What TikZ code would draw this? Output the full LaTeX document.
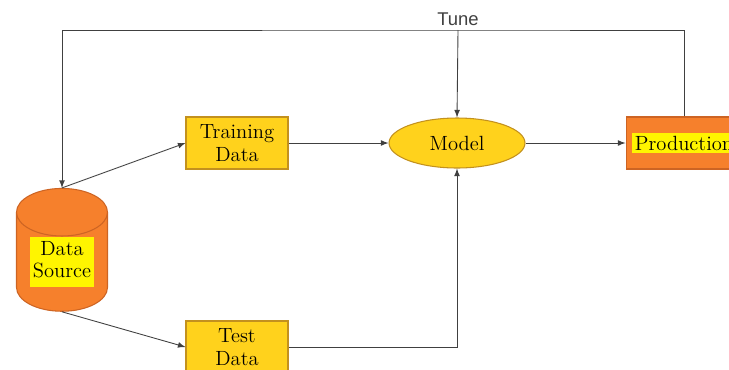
\documentclass[tikz,border=0pt]{standalone}
\usepackage{fontspec}
\newfontfamily\tunefont{Liberation Sans}
\usepackage{xcolor}
\usetikzlibrary{shapes.geometric, arrows, positioning, calc}

\definecolor{srcorange}{RGB}{246,128,44}
\definecolor{srcedge}{RGB}{205,100,35}
\definecolor{boxgold}{RGB}{255,210,28}
\definecolor{boxedge}{RGB}{195,145,30}
\definecolor{hiyellow}{RGB}{255,245,0}

\newcommand{\hilite}[1]{{\setlength{\fboxsep}{1.5pt}\colorbox{hiyellow}{#1}}}

\begin{document}
\begin{tikzpicture}[
    x=0.02cm, y=-0.02cm,
    font=\fontsize{11.7}{13.5}\selectfont,
    node distance=2cm,
    box/.style={rectangle, draw=boxedge, fill=boxgold, line width=0.6pt, minimum width=2.04cm, minimum height=1.04cm, align=center, inner sep=1pt},
    store/.style={cylinder, shape border rotate=90, aspect=0.75, draw=srcedge, fill=srcorange, line width=0.6pt, minimum width=1.82cm, minimum height=2.26cm, inner sep=0pt, align=center},
    blob/.style={ellipse, draw=boxedge, fill=boxgold, line width=0.6pt, minimum width=2.72cm, minimum height=1.0cm, inner sep=0pt},
    deploy/.style={rectangle, draw=srcedge, fill=srcorange, line width=0.6pt, minimum width=2.32cm, minimum height=1.04cm, inner sep=0pt},
    arrow/.style={black!75, line width=0.5pt, ->, >=latex}
]
\clip (0,0) rectangle (729,369);

% Nodes
\node (src) [store] at (62,262) {\hilite{\begin{tabular}{@{}c@{}}Data\\[-1pt]Source\end{tabular}}};
\node (train) [box] at (237,143) {Training\\Data};
\node (test) [box] at (237,347) {Test\\Data};
\node (model) [blob, right=of train] {Model};
\node (prod) [deploy, right=of model] {\hilite{Production}};
\coordinate (tune) at (458,30);

% Arrows
\draw [arrow] (src.north) -- (train.west);
\draw [arrow] (src.south) -- (test.west);
\draw [arrow] (train) -- (model);
\draw [arrow] (test.east) -| (model.south);
\draw [arrow] (model) -- (prod);

\draw [arrow] (prod.north) |- (tune) -| (src.north);
\draw [arrow] (tune) node[above=-1pt, font=\tunefont\fontsize{10.5}{12}\selectfont] {Tune} -- (model.north);

\end{tikzpicture}
\end{document}
